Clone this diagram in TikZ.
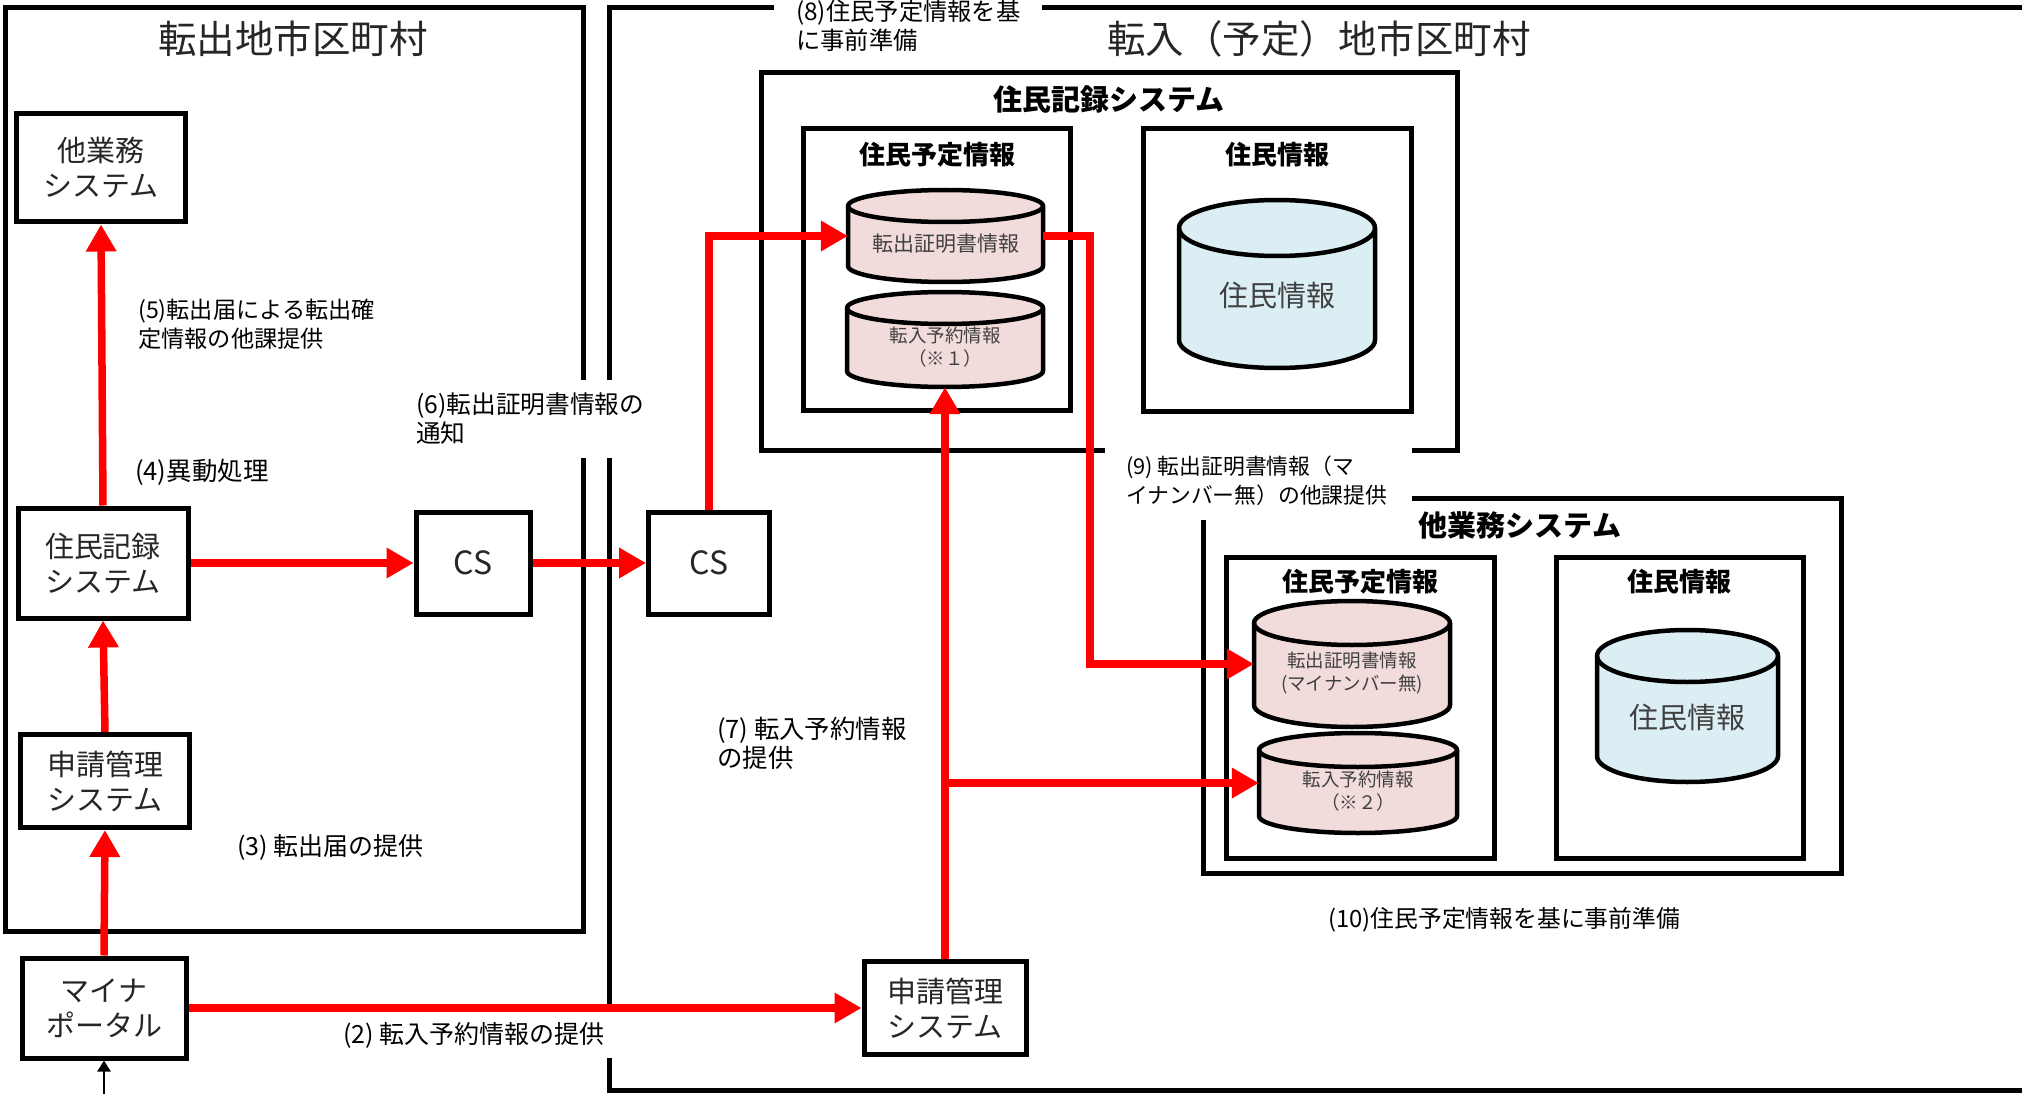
\documentclass[tikz,border=0pt]{standalone}
\usepackage{fontspec}
\setmainfont{Noto Sans CJK JP}
\usetikzlibrary{arrows.meta}
\definecolor{cylpink}{HTML}{F2DCDB}
\definecolor{cylblue}{HTML}{DAEEF3}
\definecolor{ink}{HTML}{262626}
\definecolor{cylink}{HTML}{404040}
\newcommand\dbcyl[9]{%
  \pgfmathsetmacro\cylrx{(#4-#2)/2}%
  \filldraw[cylline, cylfill #7] (#2,-#3-#6) -- (#2,-#5+#6)
     arc[start angle=180, end angle=360, x radius=\cylrx, y radius=#6]
     -- (#4,-#3-#6)
     arc[start angle=0, end angle=180, x radius=\cylrx, y radius=#6] -- cycle;
  \draw[cylline] (#2,-#3-#6) arc[start angle=180, end angle=360, x radius=\cylrx, y radius=#6];
  \node[inner sep=0pt, minimum width={#4-#2}, minimum height={#5-#3}] (#1) at ({(#2+#4)/2},{-(#3+#5)/2}) {};
  \node[cyltext, cyltxt #7] (#1-t) at ({(#2+#4)/2},-#8) {#9};
}
\newcommand\lblfont[1]{\fontsize{#1}{29}\selectfont}
\begin{document}
\begin{tikzpicture}[x=1pt,y=1pt,
  boxline/.style={line width=5pt, line join=miter},
  sysbox/.style={draw, line width=5pt, fill=white, align=center, inner sep=0pt, text=ink, font=\fontsize{29}{35}\selectfont},
  redarrow/.style={draw=red, line width=7.5pt, line join=miter, -{Triangle[length=27pt,width=29pt]}},
  lbl/.style={anchor=north west, align=left, inner sep=0pt, text=black},
  ttl/.style={inner sep=0pt, text=ink, font=\fontsize{38.5}{44}\selectfont},
  btitle/.style={inner sep=0pt, text=black, font=\bfseries\fontsize{29}{34}\selectfont},
  stitle/.style={inner sep=0pt, text=black, font=\bfseries\fontsize{26}{30}\selectfont},
  cylline/.style={line width=4.5pt},
  cyltext/.style={text=cylink, align=center, inner sep=0pt},
  cylfill ps/.style={fill=cylpink},
  cylfill pm/.style={fill=cylpink},
  cylfill bl/.style={fill=cylblue},
  cyltxt ps/.style={font=\fontsize{18.5}{23}\selectfont},
  cyltxt pm/.style={font=\fontsize{21}{25}\selectfont},
  cyltxt bl/.style={font=\fontsize{29}{34}\selectfont},
]
\useasboundingbox (0,0) rectangle (2022,-1094);
\clip (0,0) rectangle (2022,-1094);

% ---- container frames
\draw[boxline] (583,-380) -- (583,-8) -- (5,-8) -- (5,-931) -- (583,-931) -- (583,-458);
\draw[boxline] (774,-8) -- (609,-8) -- (609,-380);
\draw[boxline] (1042,-8) -- (2060,-8);
\draw[boxline] (609,-458) -- (609,-1005);
\draw[boxline] (609,-1058) -- (609,-1090) -- (2060,-1090);
% resident record system (destination)
\draw[boxline] (1105,-450) -- (761,-450) -- (761,-73) -- (1457,-73) -- (1457,-450) -- (1412,-450);
\draw[boxline] (803,-129) rectangle (1070,-410);
\draw[boxline] (1143,-129) rectangle (1411,-411);
% other business system (destination)
\draw[boxline] (1203,-520) -- (1203,-873) -- (1841,-873) -- (1841,-498) -- (1412,-498);
\draw[boxline] (1226,-557) rectangle (1494,-858);
\draw[boxline] (1556,-557) rectangle (1803,-858);

% ---- titles
\node[ttl] (tOut) at (293,-39) {転出地市区町村};
\node[ttl] (tIn) at (1319,-39) {転入（予定）地市区町村};
\node[btitle] (tJR) at (1109,-99) {住民記録システム};
\node[btitle] (tOS) at (1520,-525) {他業務システム};
\node[stitle] (tY1) at (937,-155) {住民予定情報};
\node[stitle] (tJ1) at (1277,-155) {住民情報};
\node[stitle] (tY2) at (1360,-582) {住民予定情報};
\node[stitle] (tJ2) at (1679,-582) {住民情報};

% ---- cylinders
\dbcyl{cA}{848}{190}{1043}{282}{16}{pm}{244}{転出証明書情報}
\dbcyl{cB}{847}{292}{1043}{387}{16}{ps}{347}{転入予約情報\\（※１）}
\dbcyl{cC}{1179}{200}{1375}{368}{28}{bl}{295}{住民情報}
\dbcyl{cD}{1254}{601}{1450}{727}{22}{ps}{673}{転出証明書情報\\(マイナンバー無)}
\dbcyl{cE}{1259}{733}{1457}{833}{17}{ps}{791}{転入予約情報\\（※２）}
\dbcyl{cF}{1597}{630}{1778}{782}{26}{bl}{717}{住民情報}

% ---- system nodes
\node[sysbox, minimum width=169, minimum height=108] (otherL) at (101,-168) {他業務\\システム};
\node[sysbox, minimum width=170, minimum height=110] (juminL) at (103,-563) {住民記録\\システム};
\node[sysbox, minimum width=169, minimum height=93] (shinseiL) at (105,-781) {申請管理\\システム};
\node[sysbox, minimum width=164, minimum height=100] (myna) at (104,-1008) {マイナ\\ポータル};
\node[sysbox, minimum width=114, minimum height=102, font=\fontsize{32}{36}\selectfont] (csL) at (473,-563) {CS};
\node[sysbox, minimum width=121, minimum height=102, font=\fontsize{32}{36}\selectfont] (csR) at (709,-563) {CS};
\node[sysbox, minimum width=162, minimum height=93] (shinseiR) at (945,-1008) {申請管理\\システム};

% ---- labels
\node[lbl, font=\lblfont{23.2}] (l5) at (138,-299) {(5)転出届による転出確\\定情報の他課提供};
\node[lbl, font=\lblfont{25.5}] (l4) at (135,-459) {(4)異動処理};
\node[lbl, font=\lblfont{24.7}] (l6) at (416,-393) {(6)転出証明書情報の\\通知};
\node[lbl, font=\lblfont{25}] (l3) at (237,-834) {(3) 転出届の提供};
\node[lbl, font=\lblfont{25}] (l2) at (343,-1022) {(2) 転入予約情報の提供};
\node[lbl, font=\lblfont{25.4}] (l7) at (717,-717) {(7) 転入予約情報\\の提供};
\node[lbl, font=\lblfont{24.3}] (l8) at (796,0) {(8)住民予定情報を基\\に事前準備};
\node[lbl, font=\lblfont{21.8}] (l9) at (1126,-456) {(9) 転出証明書情報（マ\\イナンバー無）の他課提供};
\node[lbl, font=\lblfont{23.8}] (l10) at (1328,-907) {(10)住民予定情報を基に事前準備};

% ---- connectors
\draw[redarrow] (myna.north) -- (shinseiL.south);
\draw[redarrow] (shinseiL.north) -- (juminL.south);
\draw[redarrow] (juminL.north) -- (otherL.south);
\draw[redarrow] (juminL.east) -- (csL.west);
\draw[redarrow] (csL.east) -- (csR.west);
\draw[redarrow] (csR.north) |- (cA.west);
\coordinate (k9) at (1090,-450);
\draw[redarrow] (cA.east) -| (k9) |- (cD.west);
\draw[redarrow] (myna.east) -- (shinseiR.west);
\draw[redarrow] (shinseiR.north) -- (cB.south);
\draw[redarrow] (shinseiR.north |- cE.west) -- (cE.west);
\coordinate (mpin) at (104,-1120);
\draw[line width=2.5pt, -{Triangle[length=11pt,width=13pt]}] (mpin) -- (myna.south);
\end{tikzpicture}
\end{document}
